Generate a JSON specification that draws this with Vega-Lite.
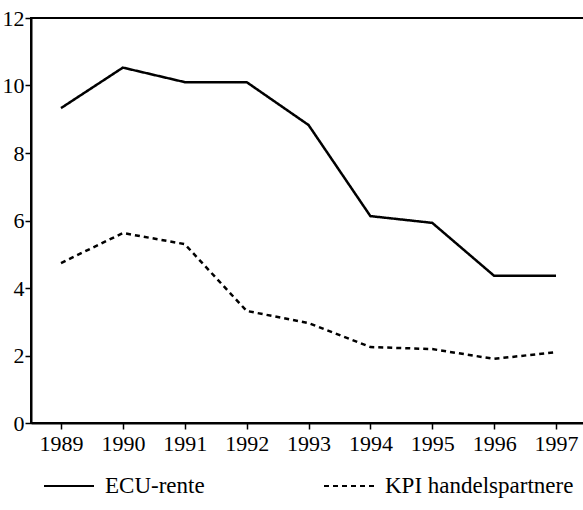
{
  "$schema": "https://vega.github.io/schema/vega-lite/v6.json",
  "width": 553,
  "height": 405,
  "autosize": {"type": "none"},
  "padding": {"left": 31, "top": 18, "right": 0, "bottom": 87},
  "background": "white",
  "config": {
    "view": {"stroke": "black", "strokeWidth": 2},
    "font": "Liberation Serif",
    "axis": {
      "labelFont": "Liberation Serif",
      "labelColor": "black",
      "labelFontSize": 22,
      "domainColor": "black",
      "domainWidth": 2,
      "tickColor": "black",
      "tickWidth": 1.5,
      "tickSize": 6,
      "grid": false,
      "title": null
    }
  },
  "data": {
    "values": [
      {"year": 1989, "series": "ECU-rente", "value": 9.33},
      {"year": 1990, "series": "ECU-rente", "value": 10.53},
      {"year": 1991, "series": "ECU-rente", "value": 10.1},
      {"year": 1992, "series": "ECU-rente", "value": 10.1},
      {"year": 1993, "series": "ECU-rente", "value": 8.83},
      {"year": 1994, "series": "ECU-rente", "value": 6.13},
      {"year": 1995, "series": "ECU-rente", "value": 5.93},
      {"year": 1996, "series": "ECU-rente", "value": 4.36},
      {"year": 1997, "series": "ECU-rente", "value": 4.36},
      {"year": 1989, "series": "KPI handelspartnere", "value": 4.74},
      {"year": 1990, "series": "KPI handelspartnere", "value": 5.63},
      {"year": 1991, "series": "KPI handelspartnere", "value": 5.3},
      {"year": 1992, "series": "KPI handelspartnere", "value": 3.32},
      {"year": 1993, "series": "KPI handelspartnere", "value": 2.96},
      {"year": 1994, "series": "KPI handelspartnere", "value": 2.25},
      {"year": 1995, "series": "KPI handelspartnere", "value": 2.19},
      {"year": 1996, "series": "KPI handelspartnere", "value": 1.9},
      {"year": 1997, "series": "KPI handelspartnere", "value": 2.1}
    ]
  },
  "mark": {"type": "line", "color": "black", "strokeWidth": 2.5},
  "encoding": {
    "x": {
      "field": "year",
      "type": "quantitative",
      "scale": {"domain": [1988.515, 1997.452], "nice": false, "zero": false},
      "axis": {"values": [1989, 1990, 1991, 1992, 1993, 1994, 1995, 1996, 1997], "format": "d", "labelPadding": 4, "labelFlush": false, "labelOverlap": false}
    },
    "y": {
      "field": "value",
      "type": "quantitative",
      "scale": {"domain": [0, 12], "nice": false},
      "axis": {"values": [0, 2, 4, 6, 8, 10, 12], "labelPadding": 1, "labelFlush": false, "labelOverlap": false}
    },
    "strokeDash": {
      "field": "series",
      "type": "nominal",
      "scale": {"domain": ["ECU-rente", "KPI handelspartnere"], "range": [[1, 0], [5, 4]]},
      "legend": {
        "title": null,
        "orient": "none",
        "direction": "horizontal",
        "legendX": 12,
        "legendY": 442,
        "symbolType": "stroke",
        "symbolSize": 2500,
        "symbolStrokeWidth": 2,
        "symbolStrokeColor": "black",
        "labelFont": "Liberation Serif",
        "labelFontSize": 23,
        "labelColor": "black",
        "labelOffset": 10,
        "columnPadding": 115,
        "labelLimit": 300
      }
    }
  }
}
